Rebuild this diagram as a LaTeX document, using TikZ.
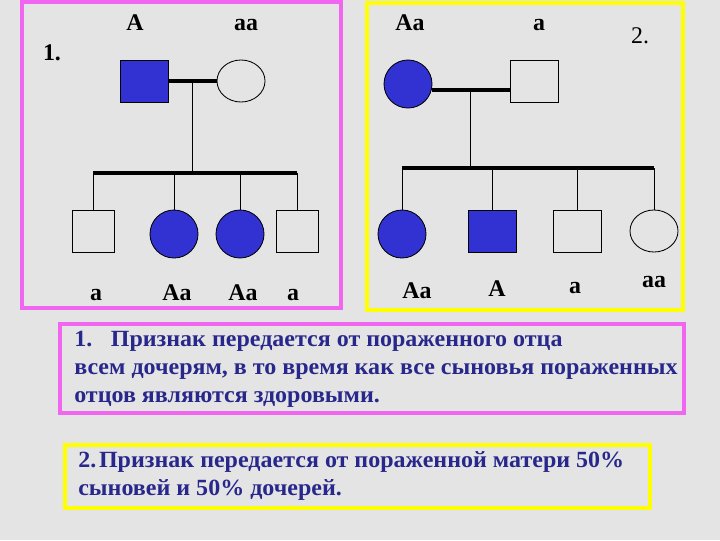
\documentclass[tikz,border=0pt]{standalone}
\usepackage{fontspec}
\setmainfont{Liberation Serif}
\newfontfamily\slidefont[FakeStretch=1.035]{Liberation Serif}
\usetikzlibrary{shapes.geometric,calc}
\definecolor{pedBlue}{HTML}{3232D2}
\definecolor{boxPink}{HTML}{F066F0}
\definecolor{boxYellow}{HTML}{FFFF00}
\definecolor{textNavy}{HTML}{28288C}
\definecolor{slideGrey}{HTML}{E4E4E4}

\tikzset{
  male/.style={draw, rectangle, inner sep=0pt, minimum width=1.2cm, minimum height=1.05cm, line width=0.6pt},
  narrow/.style={minimum width=1.05cm},
  female/.style={draw, circle, inner sep=0pt, minimum size=1.2cm, line width=0.6pt},
  femaleoval/.style={draw, ellipse, inner sep=0pt, minimum width=1.2cm, minimum height=1.05cm, line width=0.6pt},
  sick/.style={fill=pedBlue},
  gene/.style={anchor=base, inner sep=0pt, font=\bfseries\fontsize{17}{17}\selectfont},
  mateline/.style={line width=2.8pt},
  sibline/.style={line width=2.2pt},
  kidline/.style={line width=0.7pt},
  frame/.style={line width=3pt},
  note/.style={anchor=base west, align=left, inner sep=0pt, text=textNavy,
    font=\slidefont\bfseries\fontsize{16.5}{19.8}\selectfont}
}

\begin{document}
\begin{tikzpicture}[x=0.025cm, y=-0.025cm]

% --- CANVAS ---
\useasboundingbox (0,0) rectangle (720,540);
\fill[slideGrey] (0,0) rectangle (720,540);

% --- FRAMES ---
\draw[frame, boxPink] (22,2) rectangle (341,308);
\draw[frame, boxYellow] (367,3) rectangle (683,310);
\draw[frame, boxPink] (60,324) rectangle (684,413);
\draw[frame, boxYellow] (65,445) rectangle (650,508);

% --- PEDIGREE 1: affected father ---
\node[male, sick] (p1dad) at (144,81) {};
\node[femaleoval] (p1mom) at (241,81) {};
\node[male, narrow] (p1k1) at (93,231) {};
\node[female, sick] (p1k2) at (174,234) {};
\node[female, sick] (p1k3) at (240,234) {};
\node[male, narrow] (p1k4) at (297,231) {};

\draw[mateline] (p1dad.east) -- (p1mom.west);
\coordinate (p1mid) at ($(p1dad.east)!0.5!(p1mom.west)$);
\coordinate (p1sib) at (192,173);
\draw[kidline] (p1mid) -- (p1mid |- p1sib);
\draw[sibline] (p1k1.north |- p1sib) -- (p1k4.north |- p1sib);
\foreach \k in {1,...,4}
  \draw[kidline] (p1k\k.north) -- (p1k\k.north |- p1sib);

\node[gene] (p1num) at (52,60) {1.};
\node[gene] (p1gdad) at (135,30) {A};
\node[gene] (p1gmom) at (246,30) {aa};
\node[gene] (p1g1) at (96,300) {a};
\node[gene] (p1g2) at (177,300) {Aa};
\node[gene] (p1g3) at (243,300) {Aa};
\node[gene] (p1g4) at (293,300) {a};

% --- PEDIGREE 2: affected mother ---
\node[female, sick] (p2mom) at (408,84) {};
\node[male] (p2dad) at (534,81) {};
\node[female, sick] (p2k1) at (402,234) {};
\node[male, sick] (p2k2) at (492,231) {};
\node[male] (p2k3) at (577,231) {};
\node[femaleoval] (p2k4) at (654,231) {};

\draw[mateline] (p2mom.-14) -- (p2mom.-14 -| p2dad.west);
\coordinate (p2mid) at ($(p2mom.-14)!0.5!(p2mom.-14 -| p2dad.west)$);
\coordinate (p2sib) at (469,168);
\draw[kidline] (p2mid) -- (p2mid |- p2sib);
\draw[sibline] (p2k1.north |- p2sib) -- (p2k4.north |- p2sib);
\foreach \k in {1,...,4}
  \draw[kidline] (p2k\k.north) -- (p2k\k.north |- p2sib);

\node[gene, font=\fontsize{17}{17}\selectfont] (p2num) at (640,43) {2.};
\node[gene] (p2gmom) at (410,30) {Aa};
\node[gene] (p2gdad) at (539,30) {a};
\node[gene] (p2g1) at (417,298) {Aa};
\node[gene] (p2g2) at (497,296) {A};
\node[gene] (p2g3) at (575,293) {a};
\node[gene] (p2g4) at (654,287) {aa};

% --- CONCLUSIONS ---
\node[note] (note1) at (74,402)
  {1.\hspace{0.8em}Признак передается от пораженного отца\\
   всем дочерям, в то время как все сыновья пораженных\\
   отцов являются здоровыми.};
\node[note] (note2) at (78,495)
  {2.\hspace{0.12em}Признак передается от пораженной матери 50\%\\
   сыновей и 50\% дочерей.};

\end{tikzpicture}
\end{document}
